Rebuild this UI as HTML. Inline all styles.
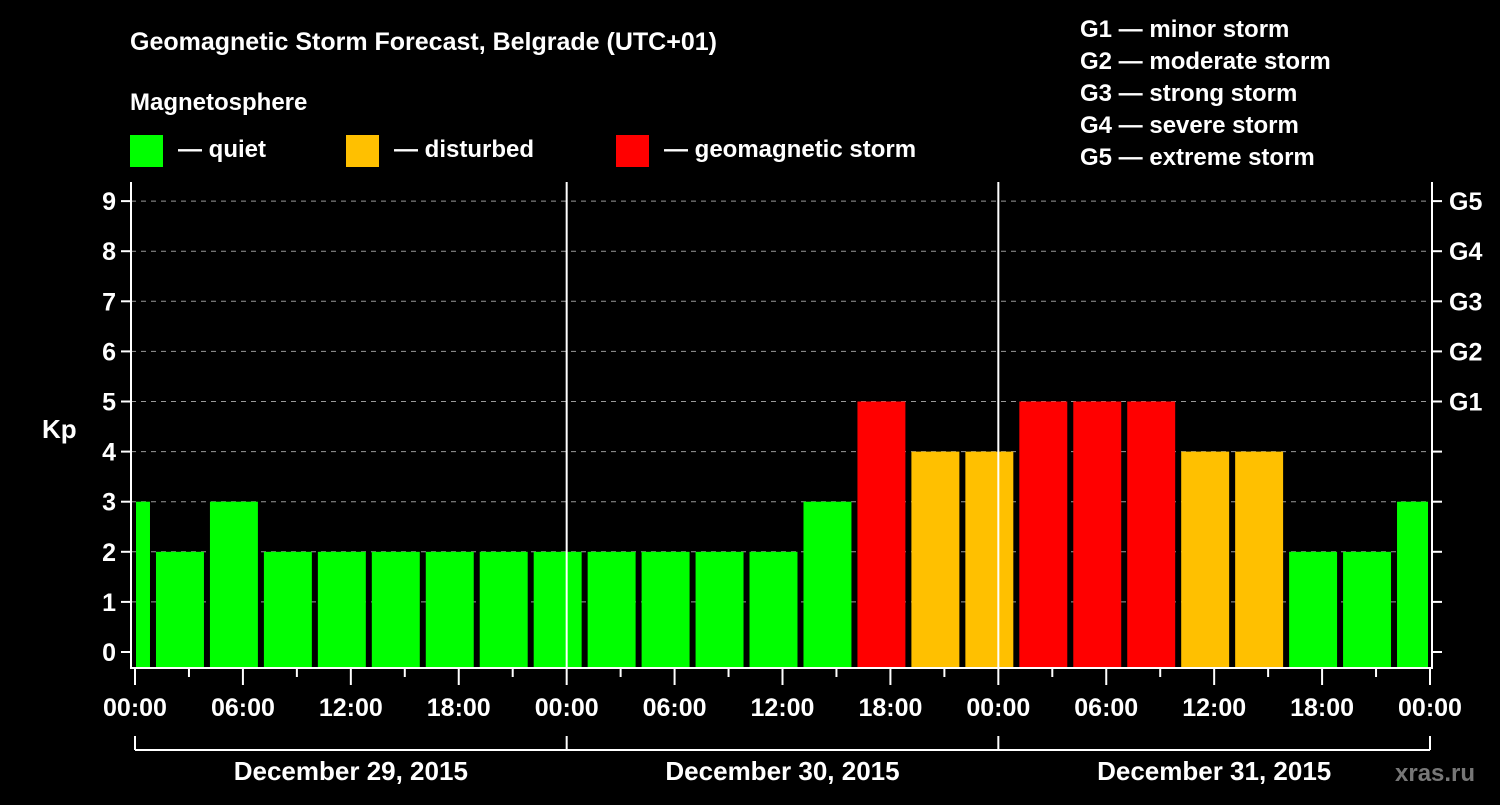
<!DOCTYPE html>
<html><head><meta charset="utf-8"><style>
body{margin:0;background:#000;}
svg text{font-family:"Liberation Sans",Arial,sans-serif;font-weight:bold;fill:#fff;}
</style></head><body>
<svg id="chart" width="1500" height="800" viewBox="0 0 1500 800" xmlns="http://www.w3.org/2000/svg">
<rect width="1500" height="800" fill="#000"/>
<text x="130" y="50" font-size="25">Geomagnetic Storm Forecast, Belgrade (UTC+01)</text>
<text x="130" y="110" font-size="24">Magnetosphere</text>
<g><rect x="130" y="135" width="33" height="32" fill="#00ff00"/><text x="178" y="157" font-size="24">— quiet</text></g>
<g><rect x="346" y="135" width="33" height="32" fill="#ffc000"/><text x="394" y="157" font-size="24">— disturbed</text></g>
<g><rect x="616" y="135" width="33" height="32" fill="#ff0000"/><text x="664" y="157" font-size="24">— geomagnetic storm</text></g>
<g font-size="24">
<text x="1080" y="37">G1 — minor storm</text>
<text x="1080" y="69">G2 — moderate storm</text>
<text x="1080" y="101">G3 — strong storm</text>
<text x="1080" y="133">G4 — severe storm</text>
<text x="1080" y="165">G5 — extreme storm</text>
</g>
<text x="42" y="438" font-size="26">Kp</text>
<text x="1395" y="781" font-size="24" style="fill:#777" font-weight="normal">xras.ru</text>
<g id="grid"></g><g id="bars"></g><g id="axes"></g>
</svg>
<script>
const kpValues=[3,2,3,2,2,2,2,2,2,2,2,2,2,3,5,4,4,5,5,5,4,4,2,2,3];
const barStartHours=[0,1,4,7,10,13,16,19,22,25,28,31,34,37,40,43,46,49,52,55,58,61,64,67,70];
const xTickLabels=["00:00","06:00","12:00","18:00","00:00","06:00","12:00","18:00","00:00","06:00","12:00","18:00","00:00"];
const dayLabels=["December 29, 2015","December 30, 2015","December 31, 2015"];
const gLabels=["G1","G2","G3","G4","G5"];
const NS="http://www.w3.org/2000/svg";
const X0=135,X1=1430,H=72;
const x=h=>X0+(X1-X0)*h/H;
const y=v=>652-v*50.1;
function mk(tag,attrs,parent,txt){const e=document.createElementNS(NS,tag);for(const k in attrs)e.setAttribute(k,attrs[k]);if(txt!==undefined)e.textContent=txt;document.getElementById(parent).appendChild(e);return e;}
function col(v){return v>=5?"#ff0000":v>=4?"#ffc000":"#00ff00";}
for(let v=1;v<=9;v++){
 const l=mk("line",{x1:131,x2:1432,y1:y(v),y2:y(v),stroke:"#999","stroke-dasharray":"5,5","stroke-width":1},"grid");
 
 
}
for(let i=0;i<kpValues.length;i++){
 const s=barStartHours[i],e=i+1<barStartHours.length?barStartHours[i+1]:H;
 const r=mk("rect",{x:x(s)+(s===0?1:3),y:y(kpValues[i]),width:x(e)-x(s)-(s===0?1:3)-(e===H?2:3),height:668-y(kpValues[i]),fill:col(kpValues[i])},"bars");
 
 
}
const A={stroke:"#fff","stroke-width":2};
for(const d of [1,2]){const l=mk("line",Object.assign({x1:x(d*24),x2:x(d*24),y1:182,y2:668},A),"axes");
 
 }
mk("path",Object.assign({d:"M131,182V668H1432V182",fill:"none"},A),"axes");
for(let v=0;v<=9;v++){
 mk("line",Object.assign({x1:121,x2:131,y1:y(v),y2:y(v)},A),"axes");
 mk("line",Object.assign({x1:1432,x2:1442,y1:y(v),y2:y(v)},A),"axes");
 const t=mk("text",{x:116,y:y(v)+9,"font-size":25,"text-anchor":"end"},"axes",String(v));
 
 
}
for(let i=0;i<gLabels.length;i++){
 const t=mk("text",{x:1449,y:y(5+i)+9,"font-size":25},"axes",gLabels[i]);
 
 
}
for(let h=0;h<=H;h+=3){
 mk("line",Object.assign({x1:x(h),x2:x(h),y1:668,y2:h%6===0?685:677},A),"axes");
}
for(let i=0;i<xTickLabels.length;i++){
 const t=mk("text",{x:x(i*6),y:716,"font-size":25,"text-anchor":"middle"},"axes",xTickLabels[i]);
 
 
}
mk("line",Object.assign({x1:x(0),x2:x(72),y1:750,y2:750},A),"axes");
for(let d=0;d<=3;d++)mk("line",Object.assign({x1:x(d*24),x2:x(d*24),y1:736,y2:750},A),"axes");
for(let d=0;d<dayLabels.length;d++){
 const t=mk("text",{x:x(d*24+12),y:780,"font-size":26,"text-anchor":"middle"},"axes",dayLabels[d]);
 
 
}
</script>
</body></html>
